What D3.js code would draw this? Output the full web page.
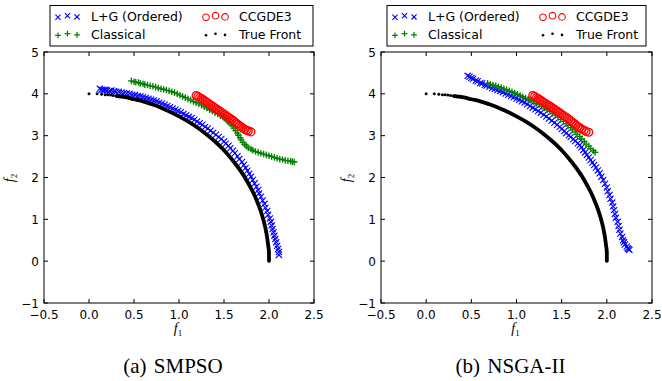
<!DOCTYPE html>
<html>
<head>
<meta charset="utf-8">
<script src="https://cdn.jsdelivr.net/npm/d3@7"></script>
<style>
  body { margin: 0; background: #fff; }
  svg text { font-family: "DejaVu Sans", sans-serif; }
</style>
</head>
<body>
<div id="chart"></div>
<script>
// Tick values
const xTicks = [-0.5, 0.0, 0.5, 1.0, 1.5, 2.0, 2.5];
const yTicks = [-1, 0, 1, 2, 3, 4, 5];
const seriesNames = ['L+G (Ordered)', 'Classical', 'CCGDE3', 'True Front'];
const captions = ['(a) SMPSO', '(b) NSGA-II'];

// True Pareto front (same in both panels)
const trueFront = [
  [0.00, 4.00], [0.09, 4.00], [0.14, 3.99], [0.18, 3.98], [0.21, 3.98], [0.24, 3.97],
  [0.27, 3.96], [0.30, 3.95], [0.40, 3.92], [0.50, 3.87], [0.60, 3.82], [0.70, 3.75],
  [0.80, 3.67], [0.90, 3.57], [1.00, 3.46], [1.10, 3.34], [1.20, 3.20], [1.30, 3.04],
  [1.40, 2.86], [1.50, 2.65], [1.60, 2.40], [1.70, 2.11], [1.76, 1.90], [1.82, 1.66],
  [1.86, 1.47], [1.90, 1.25], [1.94, 0.97], [1.97, 0.69], [1.99, 0.40], [2.00, 0.20],
  [2.00, 0.00]
];

// (a) SMPSO
const smpsoLG = [
  [0.12, 4.12], [0.14, 4.10], [0.16, 4.09], [0.18, 4.10], [0.20, 4.08], [0.23, 4.07],
  [0.25, 4.08], [0.28, 4.06], [0.30, 4.05], [0.33, 4.05], [0.36, 4.03], [0.39, 4.02],
  [0.42, 4.01], [0.45, 4.00], [0.48, 3.98], [0.51, 3.97], [0.54, 3.95], [0.57, 3.94],
  [0.60, 3.92], [0.63, 3.90], [0.66, 3.88], [0.69, 3.86], [0.72, 3.84], [0.75, 3.82],
  [0.78, 3.79], [0.81, 3.77], [0.84, 3.74], [0.87, 3.71], [0.90, 3.68], [0.93, 3.65],
  [0.96, 3.62], [0.99, 3.59], [1.02, 3.56], [1.05, 3.52], [1.08, 3.49], [1.11, 3.45],
  [1.14, 3.42], [1.17, 3.38], [1.20, 3.34], [1.23, 3.30], [1.26, 3.26], [1.29, 3.21],
  [1.32, 3.17], [1.35, 3.12], [1.38, 3.07], [1.41, 3.02], [1.44, 2.97], [1.47, 2.92],
  [1.50, 2.86], [1.52, 2.81], [1.55, 2.76], [1.57, 2.70], [1.60, 2.64], [1.62, 2.58],
  [1.65, 2.51], [1.67, 2.44], [1.70, 2.37], [1.72, 2.30], [1.74, 2.23], [1.76, 2.16],
  [1.78, 2.09], [1.80, 2.02], [1.82, 1.94], [1.84, 1.86], [1.86, 1.78], [1.88, 1.70],
  [1.89, 1.62], [1.91, 1.54], [1.93, 1.45], [1.95, 1.37], [1.96, 1.28], [1.98, 1.20],
  [1.99, 1.11], [2.01, 1.02], [2.02, 0.94], [2.03, 0.85], [2.04, 0.77], [2.05, 0.69],
  [2.06, 0.61], [2.07, 0.53], [2.08, 0.45], [2.09, 0.37], [2.10, 0.29], [2.11, 0.22],
  [2.11, 0.15]
];
const smpsoClassical = [
  [0.47, 4.31], [0.50, 4.29], [0.52, 4.28], [0.55, 4.27], [0.57, 4.25], [0.60, 4.24],
  [0.62, 4.22], [0.65, 4.21], [0.68, 4.19], [0.71, 4.18], [0.74, 4.16], [0.77, 4.14],
  [0.80, 4.12], [0.83, 4.11], [0.86, 4.09], [0.89, 4.07], [0.92, 4.05], [0.95, 4.03],
  [0.98, 4.00], [1.01, 3.97], [1.04, 3.94], [1.07, 3.91], [1.10, 3.88], [1.13, 3.85],
  [1.16, 3.82], [1.19, 3.79], [1.22, 3.76], [1.25, 3.73], [1.28, 3.69], [1.31, 3.66],
  [1.34, 3.62], [1.37, 3.59], [1.40, 3.55], [1.43, 3.52], [1.46, 3.48], [1.49, 3.45],
  [1.51, 3.41], [1.53, 3.37], [1.55, 3.33], [1.57, 3.29], [1.59, 3.24], [1.61, 3.18],
  [1.63, 3.12], [1.65, 3.06], [1.66, 3.01], [1.68, 2.95], [1.69, 2.90], [1.71, 2.84],
  [1.73, 2.79], [1.75, 2.75], [1.77, 2.71], [1.80, 2.68], [1.82, 2.65], [1.85, 2.62],
  [1.88, 2.60], [1.91, 2.58], [1.94, 2.56], [1.97, 2.54], [2.00, 2.52], [2.03, 2.50],
  [2.06, 2.48], [2.09, 2.46], [2.12, 2.44], [2.15, 2.43], [2.18, 2.41], [2.21, 2.40],
  [2.24, 2.39], [2.26, 2.38], [2.28, 2.37]
];
const smpsoCCGDE3 = [
  [1.19, 3.96], [1.21, 3.94], [1.23, 3.91], [1.25, 3.89], [1.27, 3.86], [1.29, 3.83],
  [1.31, 3.80], [1.33, 3.77], [1.35, 3.74], [1.37, 3.71], [1.39, 3.68], [1.41, 3.65],
  [1.43, 3.62], [1.45, 3.59], [1.47, 3.56], [1.49, 3.53], [1.51, 3.50], [1.53, 3.47],
  [1.55, 3.44], [1.57, 3.41], [1.59, 3.38], [1.61, 3.35], [1.63, 3.31], [1.65, 3.28],
  [1.67, 3.24], [1.69, 3.21], [1.71, 3.18], [1.73, 3.15], [1.75, 3.13], [1.77, 3.11],
  [1.80, 3.09]
];

// (b) NSGA-II
const nsgaLG = [
  [0.46, 4.43], [0.48, 4.41], [0.50, 4.38], [0.52, 4.36], [0.55, 4.32], [0.57, 4.30],
  [0.60, 4.26], [0.62, 4.25], [0.65, 4.21], [0.67, 4.20], [0.70, 4.17], [0.73, 4.14],
  [0.76, 4.12], [0.79, 4.09], [0.82, 4.07], [0.85, 4.04], [0.88, 4.01], [0.91, 3.98],
  [0.94, 3.95], [0.97, 3.92], [1.00, 3.89], [1.03, 3.86], [1.06, 3.82], [1.09, 3.79],
  [1.12, 3.75], [1.15, 3.71], [1.18, 3.67], [1.21, 3.63], [1.24, 3.59], [1.27, 3.55],
  [1.30, 3.50], [1.33, 3.46], [1.36, 3.41], [1.39, 3.36], [1.42, 3.31], [1.45, 3.26],
  [1.48, 3.21], [1.50, 3.16], [1.53, 3.11], [1.55, 3.06], [1.58, 3.01], [1.60, 2.97],
  [1.63, 2.92], [1.65, 2.87], [1.68, 2.82], [1.70, 2.77], [1.72, 2.72], [1.74, 2.66],
  [1.76, 2.60], [1.78, 2.54], [1.80, 2.48], [1.82, 2.42], [1.84, 2.36], [1.86, 2.30],
  [1.88, 2.24], [1.90, 2.17], [1.92, 2.10], [1.94, 2.02], [1.96, 1.94], [1.98, 1.85],
  [2.00, 1.76], [2.01, 1.67], [2.03, 1.58], [2.04, 1.49], [2.06, 1.40], [2.07, 1.31],
  [2.08, 1.22], [2.09, 1.13], [2.10, 1.04], [2.12, 0.94], [2.13, 0.84], [2.14, 0.75],
  [2.15, 0.66], [2.17, 0.58], [2.18, 0.50], [2.19, 0.45], [2.20, 0.40], [2.22, 0.35],
  [2.23, 0.31], [2.24, 0.29], [2.25, 0.27]
];
const nsgaClassical = [
  [0.68, 4.25], [0.71, 4.23], [0.74, 4.21], [0.77, 4.19], [0.80, 4.17], [0.83, 4.15],
  [0.86, 4.12], [0.89, 4.10], [0.92, 4.07], [0.95, 4.05], [0.98, 4.02], [1.01, 3.99],
  [1.04, 3.96], [1.07, 3.93], [1.10, 3.90], [1.13, 3.87], [1.16, 3.84], [1.19, 3.81],
  [1.22, 3.77], [1.25, 3.74], [1.28, 3.70], [1.31, 3.66], [1.34, 3.62], [1.37, 3.58],
  [1.40, 3.53], [1.43, 3.49], [1.46, 3.44], [1.49, 3.39], [1.52, 3.34], [1.55, 3.29],
  [1.57, 3.24], [1.60, 3.19], [1.62, 3.14], [1.65, 3.09], [1.67, 3.03], [1.70, 2.98],
  [1.72, 2.92], [1.75, 2.86], [1.77, 2.80], [1.80, 2.75], [1.82, 2.69], [1.85, 2.64],
  [1.87, 2.60]
];
const nsgaCCGDE3 = [
  [1.18, 3.96], [1.20, 3.94], [1.22, 3.91], [1.24, 3.89], [1.26, 3.86], [1.28, 3.83],
  [1.30, 3.80], [1.32, 3.77], [1.34, 3.74], [1.36, 3.72], [1.38, 3.69], [1.40, 3.66],
  [1.42, 3.63], [1.44, 3.60], [1.46, 3.57], [1.48, 3.54], [1.50, 3.51], [1.52, 3.48],
  [1.54, 3.45], [1.56, 3.42], [1.58, 3.39], [1.60, 3.36], [1.62, 3.32], [1.64, 3.29],
  [1.66, 3.25], [1.68, 3.22], [1.70, 3.19], [1.72, 3.16], [1.75, 3.13], [1.77, 3.10],
  [1.80, 3.08]
];

const W = 662, H = 381;
const svg = d3.select('#chart').append('svg')
  .attr('width', W).attr('height', H)
  .attr('viewBox', `0 0 ${W} ${H}`);

const colors = { lg: '#0000ff', cl: '#008000', cc: '#ff0000', tf: '#000000' };

// marker painters: draw one marker centred at (0,0) into a selection of <g>
function drawX(sel, color, s, w) {
  sel.append('path')
    .attr('d', `M${-s},${-s}L${s},${s}M${-s},${s}L${s},${-s}`)
    .attr('stroke', color).attr('stroke-width', w || 1).attr('fill', 'none');
}
function drawPlus(sel, color, s, w) {
  sel.append('path')
    .attr('d', `M${-s},0L${s},0M0,${-s}L0,${s}`)
    .attr('stroke', color).attr('stroke-width', w || 1.1).attr('fill', 'none');
}
function drawCircle(sel, color, r, w) {
  sel.append('circle').attr('r', r)
    .attr('stroke', color).attr('stroke-width', w || 1).attr('fill', 'none');
}
function drawDot(sel, color, r) {
  sel.append('circle').attr('r', r).attr('fill', color);
}

function panel(cfg) {
  const x = d3.scaleLinear().domain([-0.5, 2.5]).range([cfg.left, cfg.right]);
  const y = d3.scaleLinear().domain([-1, 5]).range([303, 52]);
  const g = svg.append('g');

  // series, in plotting order
  const layers = [
    { data: cfg.lg, paint: s => drawX(s, colors.lg, 3.1, 1.1) },
    { data: cfg.cl, paint: s => drawPlus(s, colors.cl, 3.3, 1.3) },
    { data: cfg.cc, paint: s => drawCircle(s, colors.cc, 3.9, 1.3) }
  ];
  layers.forEach(layer => {
    const pts = g.append('g').selectAll('g').data(layer.data).enter().append('g')
      .attr('transform', d => `translate(${x(d[0])},${y(d[1])})`);
    layer.paint(pts);
  });

  // true front: dense part drawn as a thick run of dots
  g.append('path')
    .datum(trueFront.filter(d => d[0] >= 0.3))
    .attr('fill', 'none').attr('stroke', colors.tf).attr('stroke-width', 3.8)
    .attr('d', d3.line().x(d => x(d[0])).y(d => y(d[1])).curve(d3.curveMonotoneY));
  g.append('g').selectAll('circle').data(trueFront).enter().append('circle')
    .attr('cx', d => x(d[0])).attr('cy', d => y(d[1])).attr('r', 1.5).attr('fill', colors.tf);

  // frame
  g.append('rect')
    .attr('x', cfg.left).attr('y', 52)
    .attr('width', cfg.right - cfg.left).attr('height', 251)
    .attr('fill', 'none').attr('stroke', '#000').attr('stroke-width', 1);

  // inward ticks, all four sides
  const tl = 4;
  xTicks.forEach(t => {
    g.append('line').attr('x1', x(t)).attr('x2', x(t)).attr('y1', 303).attr('y2', 303 - tl).attr('stroke', '#000');
    g.append('line').attr('x1', x(t)).attr('x2', x(t)).attr('y1', 52).attr('y2', 52 + tl).attr('stroke', '#000');
    g.append('text').attr('x', x(t)).attr('y', 319)
      .attr('text-anchor', 'middle').attr('font-size', 12)
      .text(t < 0 ? '\u2212' + Math.abs(t).toFixed(1) : t.toFixed(1));
  });
  yTicks.forEach(t => {
    g.append('line').attr('x1', cfg.left).attr('x2', cfg.left + tl).attr('y1', y(t)).attr('y2', y(t)).attr('stroke', '#000');
    g.append('line').attr('x1', cfg.right).attr('x2', cfg.right - tl).attr('y1', y(t)).attr('y2', y(t)).attr('stroke', '#000');
    g.append('text').attr('x', cfg.left - 5).attr('y', y(t) + 4.5)
      .attr('text-anchor', 'end').attr('font-size', 12)
      .text(t < 0 ? '\u2212' + Math.abs(t) : String(t));
  });

  // axis labels
  const cx = (cfg.left + cfg.right) / 2;
  const fl = g.append('text').attr('x', cx - 1).attr('y', 333)
    .attr('text-anchor', 'middle')
    .style('font-family', '"Liberation Serif", serif').style('font-style', 'italic').attr('font-size', 14);
  fl.append('tspan').text('f');
  fl.append('tspan').attr('dy', 3).attr('font-size', 9).style('font-style', 'normal').text('1');

  const yl = g.append('text')
    .attr('transform', `translate(${cfg.left - 30},178) rotate(-90)`)
    .attr('text-anchor', 'middle')
    .style('font-family', '"Liberation Serif", serif').style('font-style', 'italic').attr('font-size', 14);
  yl.append('tspan').text('f');
  yl.append('tspan').attr('dy', 3).attr('font-size', 9).style('font-style', 'normal').text('2');

  // caption
  g.append('text').attr('x', cx - 6).attr('y', 373).attr('text-anchor', 'middle')
    .style('font-family', '"Liberation Serif", "Times New Roman", serif').attr('font-size', 21)
    .attr('word-spacing', 2)
    .text(cfg.caption);

  // legend
  const lg = g.append('g');
  lg.append('rect').attr('x', cfg.legX).attr('y', 5.5).attr('width', cfg.legW).attr('height', 40.5)
    .attr('fill', '#fff').attr('stroke', '#000').attr('stroke-width', 1);
  const entries = [
    { name: seriesNames[0], col: 0, row: 0, paint: s => drawX(s, colors.lg, 2.6, 1.1) },
    { name: seriesNames[1], col: 0, row: 1, paint: s => drawPlus(s, colors.cl, 2.9, 1.2) },
    { name: seriesNames[2], col: 1, row: 0, paint: s => drawCircle(s, colors.cc, 3.3, 1.1) },
    { name: seriesNames[3], col: 1, row: 1, paint: s => drawDot(s, colors.tf, 1.3) }
  ];
  const yoff = [0.8, -0.8, 0.4];
  entries.forEach(e => {
    const mx = cfg.legX + 8 + e.col * cfg.colGap;
    const my = 16.5 + e.row * 18;
    [0, 1, 2].forEach(i => {
      const m = lg.append('g').attr('transform', `translate(${mx + i * 9.5},${my + yoff[i]})`);
      e.paint(m);
    });
    lg.append('text').attr('x', mx + 33).attr('y', my + 4.5).attr('font-size', 12.5).text(e.name);
  });
}

panel({ left: 44, right: 314, lg: smpsoLG, cl: smpsoClassical, cc: smpsoCCGDE3,
        caption: captions[0], legX: 50, legW: 263, colGap: 148 });
panel({ left: 381, right: 652, lg: nsgaLG, cl: nsgaClassical, cc: nsgaCCGDE3,
        caption: captions[1], legX: 387, legW: 259, colGap: 148 });
</script>
</body>
</html>
